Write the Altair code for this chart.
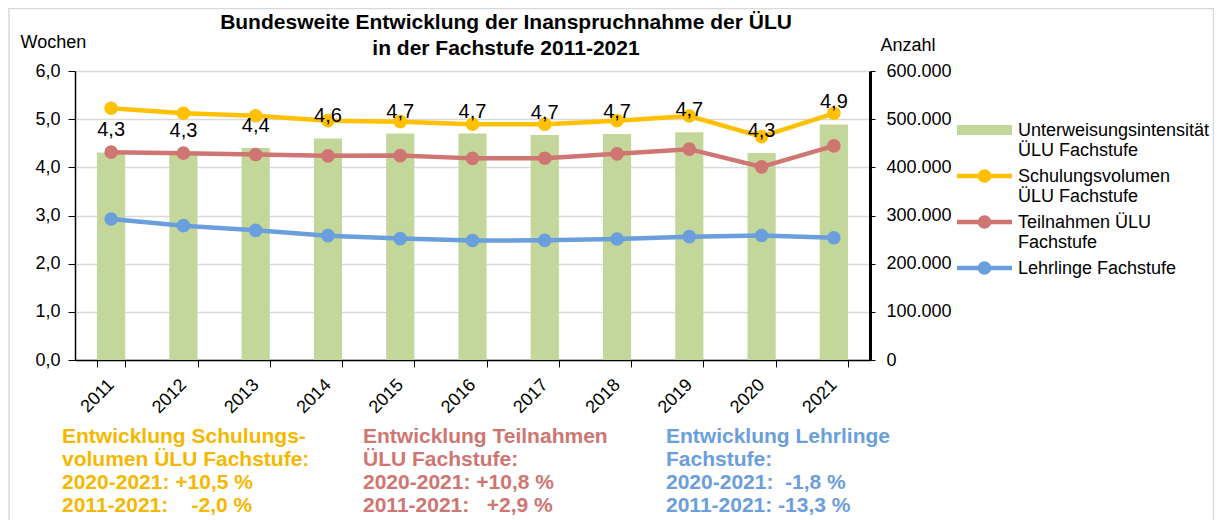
import altair as alt
import pandas as pd

# ---------------- data ----------------
years = [str(y) for y in range(2011, 2022)]
intensity = [4.31, 4.30, 4.40, 4.60, 4.70, 4.70, 4.67, 4.69, 4.73, 4.30, 4.89]
schulungsvolumen = [522600, 512200, 507200, 496900, 494800, 489400, 489400, 496900, 506600, 463800, 512200]
teilnahmen = [431500, 429400, 426500, 423800, 424400, 418600, 419000, 428000, 437700, 401000, 444500]
lehrlinge = [292700, 278900, 269200, 258200, 252000, 248100, 248400, 251300, 256100, 258500, 253800]

bar_name = "Unterweisungsintensität ÜLU Fachstufe"
series_names = ["Schulungsvolumen ÜLU Fachstufe", "Teilnahmen ÜLU Fachstufe", "Lehrlinge Fachstufe"]
series_colors = ["#FFC000", "#CF7572", "#6A9EDC"]
bar_color = "#C4D79B"

legend_labels = [
    "Unterweisungsintensität\nÜLU Fachstufe",
    "Schulungsvolumen\nÜLU Fachstufe",
    "Teilnahmen ÜLU\nFachstufe",
    "Lehrlinge Fachstufe",
]
legend_colors = [bar_color] + series_colors

notes = [
    "Entwicklung Schulungs-\nvolumen ÜLU Fachstufe:\n2020-2021: +10,5 %\n2011-2021:\u00a0\u00a0\u00a0\u00a0-2,0 %",
    "Entwicklung Teilnahmen\nÜLU Fachstufe:\n2020-2021: +10,8 %\n2011-2021:\u00a0\u00a0\u00a0+2,9 %",
    "Entwicklung Lehrlinge\nFachstufe:\n2020-2021:\u00a0\u00a0-1,8 %\n2011-2021: -13,3 %",
]
note_colors = ["#F5B800", "#CF7572", "#6A9EDC"]

title_text = "Bundesweite Entwicklung der Inanspruchnahme der ÜLU\nin der Fachstufe 2011-2021"

# ---------------- tables ----------------
df_bar = pd.DataFrame({"Jahr": years, "w": intensity})
df_lines = pd.concat([
    pd.DataFrame({"Jahr": years, "n": vals, "Reihe": name})
    for name, vals in zip(series_names, [schulungsvolumen, teilnahmen, lehrlinge])
], ignore_index=True)

W, H = 795, 289
FONT = "Liberation Sans"

x_enc = alt.X(
    "Jahr:N",
    sort=years,
    scale=alt.Scale(paddingInner=0.61, paddingOuter=0.305),
    axis=alt.Axis(
        title=None, labelAngle=-45, labelAlign="right", labelBaseline="middle",
        labelFontSize=18, labelPadding=15, tickSize=7, tickBand="extent",
        domainColor="black", domainWidth=1.5, tickColor="#000000", tickWidth=1,
        labelColor="black", grid=False,
    ),
)

bars = alt.Chart(df_bar).mark_bar(color=bar_color).encode(
    x=x_enc,
    y=alt.Y(
        "w:Q",
        scale=alt.Scale(domain=[0, 6]),
        axis=alt.Axis(
            orient="left", values=[0, 1, 2, 3, 4, 5, 6],
            labelExpr="replace(format(datum.value, '.1f'), '.', ',')",
            labelFontSize=18, labelColor="black", labelPadding=8, tickSize=7,
            tickColor="black", domainColor="black", domainWidth=1.5,
            grid=True, gridColor="#D9D9D9", gridWidth=1.5,
            title="Wochen", titleAngle=0, titleAlign="left", titleBaseline="middle",
            titleX=-55, titleY=-29, titleFontSize=18, titleFontWeight="normal",
            titleColor="black",
        ),
    ),
)

y_right = alt.Y(
    "n:Q",
    scale=alt.Scale(domain=[0, 600000]),
    axis=alt.Axis(
        orient="right", values=[0, 100000, 200000, 300000, 400000, 500000, 600000],
        labelExpr="replace(format(datum.value, ',.0f'), ',', '.')",
        labelFontSize=18, labelColor="black", labelPadding=11, tickSize=5,
        tickColor="black", domainColor="black", domainWidth=3, grid=False,
        title="Anzahl", titleAngle=0, titleAlign="left", titleBaseline="middle",
        titleX=10, titleY=-26, titleFontSize=18, titleFontWeight="normal",
        titleColor="black",
    ),
)

color_enc = alt.Color("Reihe:N", scale=alt.Scale(domain=series_names, range=series_colors), legend=None)

lines = alt.Chart(df_lines).mark_line(strokeWidth=4.5).encode(
    x=x_enc, y=y_right, color=color_enc
)
points = alt.Chart(df_lines).mark_circle(size=185, opacity=1).encode(
    x=x_enc,
    y=alt.Y("n:Q", scale=alt.Scale(domain=[0, 600000]), axis=None),
    color=color_enc,
)

labels = alt.Chart(df_bar).transform_calculate(
    lbl="replace(format(datum.w, '.1f'), '.', ',')"
).mark_text(fontSize=20, dy=-22, baseline="middle", color="black", font=FONT).encode(
    x=x_enc,
    y=alt.Y("w:Q", scale=alt.Scale(domain=[0, 6]), axis=None),
    text="lbl:N",
)

# ---------------- title ----------------
title = alt.Chart(pd.DataFrame({"t": [title_text]})).mark_text(
    align="center", baseline="alphabetic", fontSize=21, fontWeight="bold",
    lineHeight=26, lineBreak="\n", color="black", font=FONT,
).encode(x=alt.value(431), y=alt.value(-42), text="t:N")

# ---------------- manual legend ----------------
legend_layers = []
for i, (lab, col) in enumerate(zip(legend_labels, legend_colors)):
    yc = 59 + 46 * i
    d = pd.DataFrame({"t": [lab]})
    if i == 0:
        legend_layers.append(
            alt.Chart(d).mark_rect(color=col).encode(
                x=alt.value(882), x2=alt.value(937), y=alt.value(yc - 5), y2=alt.value(yc + 5)
            )
        )
    else:
        legend_layers.append(
            alt.Chart(d).mark_rule(color=col, strokeWidth=4.5).encode(
                x=alt.value(882), x2=alt.value(937), y=alt.value(yc)
            )
        )
        legend_layers.append(
            alt.Chart(d).mark_circle(color=col, size=185, opacity=1).encode(
                x=alt.value(909.5), y=alt.value(yc)
            )
        )
    legend_layers.append(
        alt.Chart(d).mark_text(
            align="left", baseline="alphabetic", fontSize=18, lineHeight=20,
            lineBreak="\n", color="black", font=FONT,
        ).encode(x=alt.value(943), y=alt.value(yc + 6), text="t:N")
    )

# ---------------- notes under the chart ----------------
note_layers = []
for xpos, txt, col in zip([-13, 288, 591], notes, note_colors):
    note_layers.append(
        alt.Chart(pd.DataFrame({"t": [txt]})).mark_text(
            align="left", baseline="alphabetic", fontSize=21, fontWeight="bold",
            lineHeight=23, lineBreak="\n", color=col, font=FONT,
        ).encode(x=alt.value(xpos), y=alt.value(372), text="t:N")
    )

border = alt.Chart(pd.DataFrame({"a": [0]})).mark_rect(
    filled=False, stroke="#D9D9D9", strokeWidth=1.5
).encode(x=alt.value(-66), x2=alt.value(1138.5), y=alt.value(-62.5), y2=alt.value(480))

chart = alt.layer(
    bars, lines, points, labels, title, *legend_layers, *note_layers, border
).resolve_scale(y="independent").properties(
    width=W,
    height=H,
    autosize=alt.AutoSizeParams(type="none"),
    padding={"left": 67, "top": 63, "right": 344, "bottom": 180},
).configure(font=FONT).configure_view(stroke=None)

chart.save("out.html", embed_options={"renderer": "svg", "actions": False})
